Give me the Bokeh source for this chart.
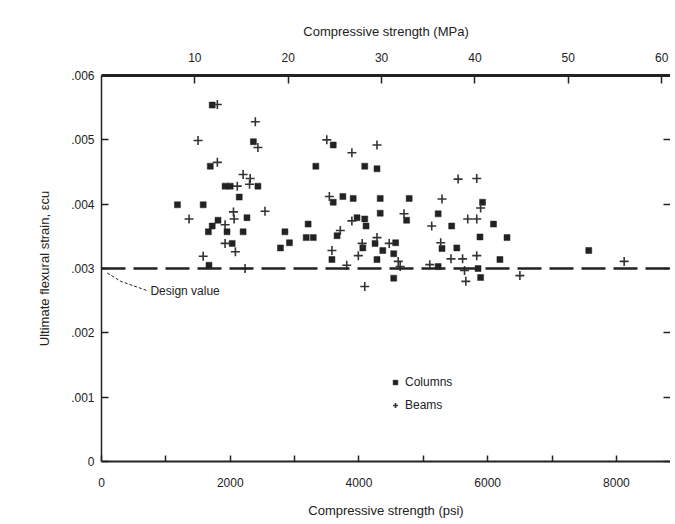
from bokeh.plotting import figure
from bokeh.models import (LinearAxis, Range1d, FixedTicker, CustomJSTickFormatter, Span,
                          Legend, LegendItem, Label)
from bokeh.embed import file_html
from bokeh.resources import INLINE

# ---------------- data ----------------
col_psi = [1720, 2360, 3600, 1690, 3330, 2430, 1920, 2000, 2140, 3600, 1180, 1580,
           2260, 1810, 1720, 1660, 1950, 2200, 3210, 2850, 3180, 3290, 3660, 2030,
           2780, 2920, 3580, 1670, 4090, 4280, 3750, 3910, 4330, 4780, 5920, 4330,
           4740, 5230, 3970, 4090, 4110, 6090, 5440, 5880, 6300, 4060, 4250, 4570,
           5290, 5520, 4370, 4540, 7570, 4280, 6190, 5230, 5850, 4540, 5890]
col_strain = [0.00554, 0.00497, 0.00492, 0.00459, 0.00459, 0.00428, 0.00428, 0.00428,
              0.00411, 0.00403, 0.00399, 0.00399, 0.00379, 0.00375, 0.00366, 0.00357,
              0.00357, 0.00357, 0.00369, 0.00357, 0.00348, 0.00348, 0.00351, 0.00339,
              0.00332, 0.00340, 0.00314, 0.00305, 0.00459, 0.00455, 0.00412, 0.00409,
              0.00409, 0.00409, 0.00403, 0.00386, 0.00375, 0.00385, 0.00379, 0.00377,
              0.00366, 0.00369, 0.00366, 0.00349, 0.00348, 0.00332, 0.00339, 0.00340,
              0.00331, 0.00332, 0.00328, 0.00323, 0.00328, 0.00314, 0.00314, 0.00303,
              0.00300, 0.00285, 0.00286]

beam_psi = [1800, 2390, 1500, 2430, 3500, 1800, 2200, 2310, 2300, 2110, 3540, 2540,
            2050, 2060, 1360, 1920, 3710, 1920, 2080, 3580, 1580, 2230, 3890, 4280,
            5540, 5830, 5290, 5890, 4700, 3890, 5690, 5830, 5130, 4050, 4280, 4470,
            5270, 3990, 5430, 5610, 5830, 4610, 4640, 3810, 5100, 8120, 5640, 5660,
            6500, 4090]
beam_strain = [0.00555, 0.00528, 0.00499, 0.00488, 0.00500, 0.00465, 0.00446, 0.00440,
               0.00431, 0.00428, 0.00412, 0.00389, 0.00388, 0.00377, 0.00377, 0.00368,
               0.00359, 0.00339, 0.00326, 0.00328, 0.00319, 0.00300, 0.00480, 0.00492,
               0.00439, 0.00440, 0.00408, 0.00394, 0.00385, 0.00374, 0.00377, 0.00377,
               0.00366, 0.00339, 0.00348, 0.00339, 0.00340, 0.00320, 0.00315, 0.00315,
               0.00320, 0.00311, 0.00303, 0.00305, 0.00306, 0.00311, 0.00297, 0.00280,
               0.00289, 0.00272]

design_strain = 0.003
psi_ticks = [0, 2000, 4000, 6000, 8000]
psi_minor_ticks = [1000, 3000, 5000, 7000]
mpa_ticks = [10, 20, 30, 40, 50, 60]
strain_ticks = [0, 0.001, 0.002, 0.003, 0.004, 0.005, 0.006]
PSI_PER_MPA = 145.04

# ---------------- styling ----------------
FONT = "Liberation Sans"
INK = "#222222"
X_END = 8840

p = figure(width=670, height=520, x_range=Range1d(0, X_END), y_range=Range1d(0, 0.006),
           output_backend="svg", toolbar_location=None,
           min_border_left=101, min_border_right=0, min_border_top=75, min_border_bottom=55,
           x_axis_location=None, y_axis_location=None)
p.outline_line_color = None
p.xgrid.visible = False
p.ygrid.visible = False
p.background_fill_color = "white"
p.border_fill_color = "white"


def style_axis(ax, tick_len, line_w):
    ax.major_tick_in = tick_len
    ax.major_tick_out = 0
    ax.minor_tick_in = tick_len
    ax.minor_tick_out = 0
    ax.axis_line_width = line_w
    ax.axis_line_color = INK
    ax.major_tick_line_color = INK
    ax.minor_tick_line_color = INK
    ax.major_tick_line_width = 1.5
    ax.minor_tick_line_width = 1.5
    ax.major_label_text_font = FONT
    ax.major_label_text_font_size = "12px"
    ax.major_label_text_color = INK
    ax.axis_label_text_font = FONT
    ax.axis_label_text_font_size = "13px"
    ax.axis_label_text_font_style = "normal"
    ax.axis_label_text_color = INK


# bottom axis (psi)
bottom = LinearAxis(ticker=FixedTicker(ticks=psi_ticks, minor_ticks=psi_minor_ticks),
                    axis_label="Compressive strength (psi)")
style_axis(bottom, 6, 2)
bottom.major_label_standoff = 16
bottom.axis_label_standoff = 13
p.add_layout(bottom, "below")

# top axis (MPa)
p.extra_x_ranges = {"mpa": Range1d(0, X_END / PSI_PER_MPA)}
top = LinearAxis(x_range_name="mpa", ticker=FixedTicker(ticks=mpa_ticks, minor_ticks=[]),
                 axis_label="Compressive strength (MPa)")
style_axis(top, 8, 3)
top.major_label_standoff = 14
top.axis_label_standoff = 11
p.add_layout(top, "above")

# left axis (strain)
left = LinearAxis(ticker=FixedTicker(ticks=strain_ticks, minor_ticks=[]),
                  axis_label="Ultimate flexural strain, εcu",
                  formatter=CustomJSTickFormatter(
                      code="return tick === 0 ? '0' : tick.toFixed(3).replace(/^0/, '');"))
style_axis(left, 7, 1.5)
left.major_label_standoff = 7
left.axis_label_standoff = 16
p.add_layout(left, "left")

# right axis: ticks only
right = LinearAxis(ticker=FixedTicker(ticks=strain_ticks, minor_ticks=[]),
                   formatter=CustomJSTickFormatter(code="return '';"))
style_axis(right, 7, 1)
right.axis_line_alpha = 0
right.major_label_standoff = 0
p.add_layout(right, "right")

# design value line
p.add_layout(Span(location=design_strain, dimension="width", line_color=INK,
                  line_width=2.5, line_dash="24 8"))

# leader + label for design value
p.line(x=[90, 300, 700], y=[0.00293, 0.00280, 0.00266], line_color=INK,
       line_width=1, line_dash="3 2")
p.add_layout(Label(x=760, y=0.00265, text="Design value", text_font=FONT,
                   text_font_size="12px", text_color=INK, text_baseline="middle"))

# data
r_col = p.scatter(col_psi, col_strain, marker="square", size=6, fill_color=INK,
                  line_color=INK, line_width=0.5)
r_beam = p.scatter(beam_psi, beam_strain, marker="cross", size=9, line_color="#333333",
                   line_width=1.6)

legend = Legend(items=[LegendItem(label="Columns", renderers=[r_col]),
                       LegendItem(label="Beams", renderers=[r_beam])],
                location=(288, 48), orientation="vertical")
legend.background_fill_alpha = 0
legend.border_line_color = None
legend.padding = 0
legend.margin = 0
legend.spacing = 7
legend.glyph_width = 12
legend.glyph_height = 16
legend.label_standoff = 4
legend.label_text_font = FONT
legend.label_text_font_size = "12px"
legend.label_text_color = INK
p.add_layout(legend, "center")

open("out.html", "w").write(file_html(p, INLINE))
